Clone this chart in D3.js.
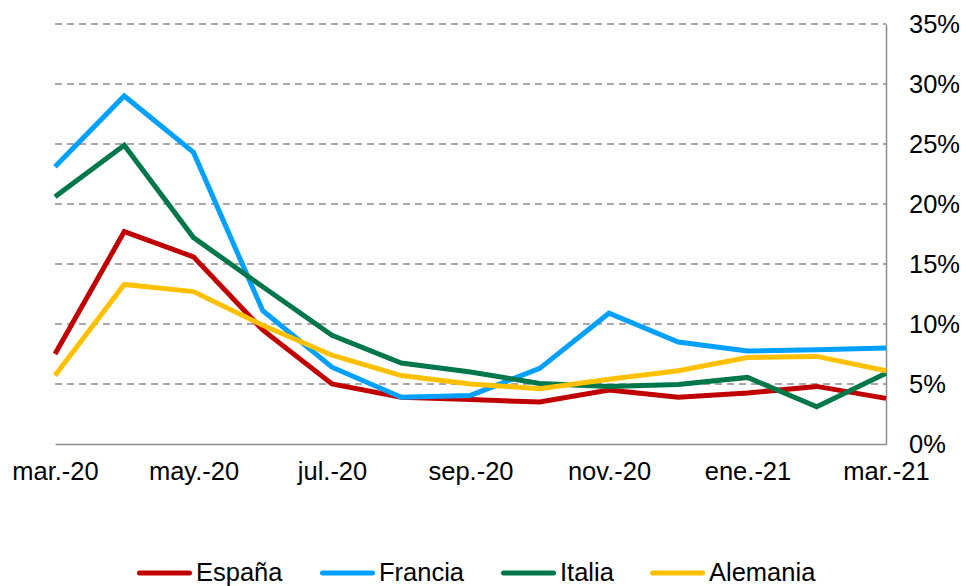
<!DOCTYPE html>
<html>
<head>
<meta charset="utf-8">
<script src="https://cdn.jsdelivr.net/npm/d3@7"></script>
<style>
  html, body { margin: 0; padding: 0; background: #fff; }
  svg { display: block; }
  svg text { font-family: "Liberation Sans", Arial, sans-serif; font-size: 25.5px; fill: #000; }
</style>
</head>
<body>
<svg id="chart"></svg>
<script>
// months on the x axis
const months = ["mar.-20", "abr.-20", "may.-20", "jun.-20", "jul.-20", "ago.-20", "sep.-20",
  "oct.-20", "nov.-20", "dic.-20", "ene.-21", "feb.-21", "mar.-21"];
const xTickLabels = ["mar.-20", "may.-20", "jul.-20", "sep.-20", "nov.-20", "ene.-21", "mar.-21"];
const yTicks = [0, 5, 10, 15, 20, 25, 30, 35];

// series values (%)
const espana = [7.5, 17.7, 15.6, 9.5, 5.0, 3.9, 3.7, 3.5, 4.5, 3.9, 4.25, 4.8, 3.8];
const francia = [23.1, 29.0, 24.3, 11.1, 6.4, 3.9, 4.05, 6.3, 10.9, 8.5, 7.75, 7.85, 8.0];
const italia = [20.6, 24.9, 17.2, 13.1, 9.05, 6.75, 6.0, 5.05, 4.8, 4.95, 5.55, 3.1, 5.9];
const alemania = [5.7, 13.3, 12.7, 9.9, 7.4, 5.7, 5.0, 4.6, 5.4, 6.1, 7.2, 7.3, 6.1];

const seriesNames = ["España", "Francia", "Italia", "Alemania"];
const seriesValues = [espana, francia, italia, alemania];
const colors = ["#C00000", "#00A0FF", "#00774A", "#FFC000"];

const width = 967, height = 586;
const margin = { top: 24, right: 81, bottom: 142, left: 55 };
const innerWidth = width - margin.left - margin.right;
const innerHeight = height - margin.top - margin.bottom;

const svg = d3.select("#chart")
  .attr("width", width)
  .attr("height", height)
  .attr("viewBox", `0 0 ${width} ${height}`);
const g = svg.append("g").attr("transform", `translate(${margin.left},${margin.top})`);

const x = d3.scalePoint().domain(months).range([0, innerWidth]);
const y = d3.scaleLinear().domain([0, 35]).range([innerHeight, 0]);

// dashed gridlines
g.append("g")
  .selectAll("line")
  .data(yTicks.filter(d => d > 0))
  .join("line")
  .attr("x1", 0)
  .attr("x2", innerWidth)
  .attr("y1", d => y(d))
  .attr("y2", d => y(d))
  .attr("stroke", "#8c8c8c")
  .attr("stroke-width", 1.5)
  .attr("stroke-dasharray", "7,5");

// bottom axis
const xAxis = g.append("g")
  .attr("transform", `translate(0,${innerHeight})`)
  .call(d3.axisBottom(x).tickValues(xTickLabels).tickSize(0).tickPadding(18))
  .attr("font-size", null)
  .attr("font-family", null);
xAxis.select(".domain").attr("stroke", "#8c8c8c").attr("stroke-width", 1.5);

// right axis
const yAxis = g.append("g")
  .attr("transform", `translate(${innerWidth},0)`)
  .call(d3.axisRight(y).tickValues(yTicks).tickSize(0).tickPadding(23).tickFormat(d => d + "%"))
  .attr("font-size", null)
  .attr("font-family", null);
yAxis.select(".domain").attr("stroke", "#8c8c8c").attr("stroke-width", 1.5);

// lines
const line = d3.line()
  .x((d, i) => x(months[i]))
  .y(d => y(d));

g.append("g")
  .selectAll("path")
  .data(seriesValues)
  .join("path")
  .attr("fill", "none")
  .attr("stroke", (d, i) => colors[i])
  .attr("stroke-width", 5)
  .attr("stroke-linejoin", "miter")
  .attr("d", line);

// legend
const legendX = [137, 320, 501, 650];
const legend = svg.append("g").attr("transform", "translate(0,573)");
const items = legend.selectAll("g")
  .data(seriesNames)
  .join("g")
  .attr("transform", (d, i) => `translate(${legendX[i]},0)`);
items.append("line")
  .attr("x1", 2.5).attr("x2", 52.5)
  .attr("stroke", (d, i) => colors[i])
  .attr("stroke-width", 5)
  .attr("stroke-linecap", "round");
items.append("text")
  .attr("x", 59)
  .attr("dy", "0.33em")
  .text(d => d);
</script>
</body>
</html>
